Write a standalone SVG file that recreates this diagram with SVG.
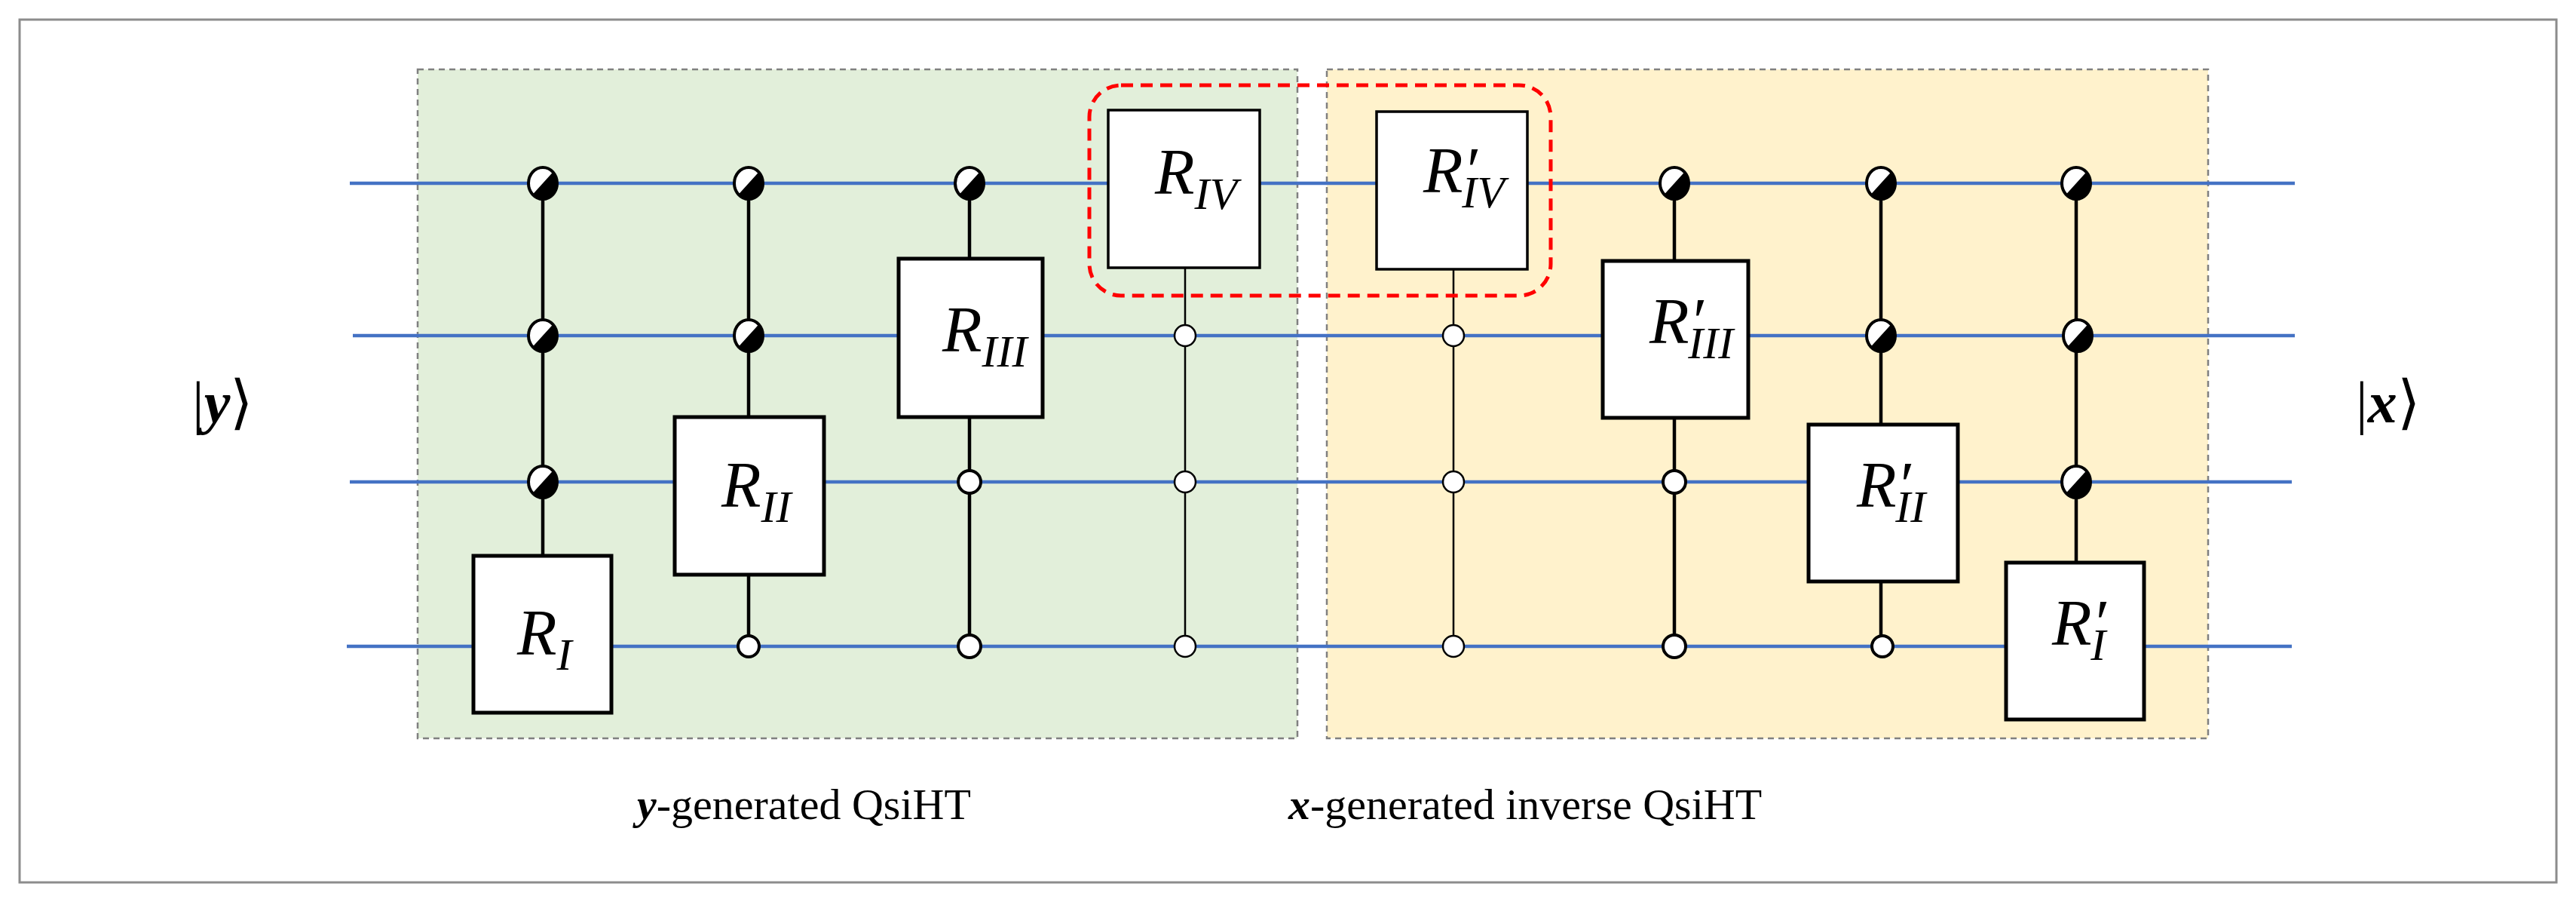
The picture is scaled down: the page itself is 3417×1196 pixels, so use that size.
<svg xmlns="http://www.w3.org/2000/svg" xmlns:xlink="http://www.w3.org/1999/xlink" width="3417" height="1196" viewBox="0 0 3417 1196">
<style>
.wire{stroke:#4472C4;stroke-width:4.5;fill:none}
.ctl{stroke:#000;stroke-width:4.5}
.ctlt{stroke:#000;stroke-width:2.5}
.box{fill:#fff;stroke:#000;stroke-width:5}
.boxt{fill:#fff;stroke:#000;stroke-width:3.5}
.oc{fill:#fff;stroke:#000;stroke-width:4}
.oct{fill:#fff;stroke:#000;stroke-width:2.5}
.R{font-family:"Liberation Serif",serif;font-style:italic;font-size:86px}
.s{font-size:60px}
.lab{font-family:"Liberation Serif",serif;font-size:58px}
.ket{font-family:"Liberation Serif",serif;font-size:78px}
</style>
<defs>
<g id="hf"><ellipse rx="19" ry="21" fill="#000"/><path d="M-13.4,14.8 A19,21 0 0 1 13.4,-14.8 Z" fill="#fff"/><ellipse rx="19" ry="21" fill="none" stroke="#000" stroke-width="4"/></g>
</defs>
<rect width="3417" height="1196" fill="#fff"/>
<rect x="26" y="26" width="3365" height="1144" fill="none" stroke="#8c8c8c" stroke-width="3"/>
<rect x="554" y="92" width="1167" height="887" fill="#E2EFDA" stroke="#808080" stroke-width="2.5" stroke-dasharray="8,6"/>
<rect x="1760" y="92" width="1169" height="887" fill="#FFF2CC" stroke="#808080" stroke-width="2.5" stroke-dasharray="8,6"/>
<g id="wires">
<line class="wire" x1="464" y1="243" x2="3044" y2="243"/>
<line class="wire" x1="468" y1="445" x2="3044" y2="445"/>
<line class="wire" x1="464" y1="639" x2="3040" y2="639"/>
<line class="wire" x1="460" y1="857" x2="3040" y2="857"/>
</g>
<g id="connectors">
<line class="ctl" x1="720" y1="243" x2="720" y2="737"/>
<line class="ctl" x1="993" y1="243" x2="993" y2="857"/>
<line class="ctl" x1="1286" y1="243" x2="1286" y2="857"/>
<line class="ctlt" x1="1572" y1="300" x2="1572" y2="857"/>
<line class="ctlt" x1="1928" y1="300" x2="1928" y2="857"/>
<line class="ctl" x1="2221" y1="243" x2="2221" y2="857"/>
<line class="ctl" x1="2495" y1="243" x2="2495" y2="857"/>
<line class="ctl" x1="2754" y1="243" x2="2754" y2="746"/>
</g>
<g id="controls">
<use href="#hf" x="720" y="243"/><use href="#hf" x="720" y="445"/><use href="#hf" x="720" y="639"/>
<use href="#hf" x="993" y="243"/><use href="#hf" x="993" y="445"/><circle class="oc" cx="993" cy="857" r="14"/>
<use href="#hf" x="1286" y="243"/><circle class="oc" cx="1286" cy="639" r="15"/><circle class="oc" cx="1286" cy="857" r="15"/>
<circle class="oct" cx="1572" cy="445" r="14"/><circle class="oct" cx="1572" cy="639" r="14"/><circle class="oct" cx="1572" cy="857" r="14"/>
<circle class="oct" cx="1928" cy="445" r="14"/><circle class="oct" cx="1928" cy="639" r="14"/><circle class="oct" cx="1928" cy="857" r="14"/>
<use href="#hf" x="2221" y="243"/><circle class="oc" cx="2221" cy="639" r="15"/><circle class="oc" cx="2221" cy="857" r="15"/>
<use href="#hf" x="2495" y="243"/><use href="#hf" x="2495" y="445"/><circle class="oc" cx="2497" cy="857" r="14"/>
<use href="#hf" x="2754" y="243"/><use href="#hf" x="2756" y="445"/><use href="#hf" x="2754" y="639"/>
</g>
<g id="RI"><rect class="box" x="628" y="737" width="183" height="208"/><text class="R" x="686" y="868">R<tspan class="s" dy="20">I</tspan></text></g>
<g id="RII"><rect class="box" x="895" y="553" width="198" height="209"/><text class="R" x="957" y="672">R<tspan class="s" dy="20">II</tspan></text></g>
<g id="RIII"><rect class="box" x="1192" y="343" width="191" height="210"/><text class="R" x="1250" y="466">R<tspan class="s" dy="20">III</tspan></text></g>
<g id="RIV"><rect class="boxt" x="1470" y="146" width="201" height="209"/><text class="R" x="1532" y="257">R<tspan class="s" dy="20">IV</tspan></text></g>
<g id="RIVp"><rect class="boxt" x="1826" y="148" width="200" height="209"/><text class="R" x="1888" y="255">R′<tspan class="s" dx="-20" dy="20">IV</tspan></text></g>
<g id="RIIIp"><rect class="box" x="2126" y="346" width="193" height="208"/><text class="R" x="2188" y="455">R′<tspan class="s" dx="-20" dy="20">III</tspan></text></g>
<g id="RIIp"><rect class="box" x="2399" y="563" width="198" height="208"/><text class="R" x="2463" y="672">R′<tspan class="s" dx="-20" dy="20">II</tspan></text></g>
<g id="RIp"><rect class="box" x="2661" y="746" width="183" height="208"/><text class="R" x="2722" y="855">R′<tspan class="s" dx="-20" dy="20">I</tspan></text></g>
<rect x="1445" y="113" width="612" height="279" rx="42" fill="none" stroke="#FF0000" stroke-width="5" stroke-dasharray="16,10"/>
<text class="ket" x="255" y="560">|<tspan font-weight="bold" font-style="italic">y</tspan>⟩</text>
<text class="ket" x="3125" y="560">|<tspan font-weight="bold" font-style="italic">x</tspan>⟩</text>
<text class="lab" x="845" y="1086"><tspan font-weight="bold" font-style="italic">y</tspan>-generated QsiHT</text>
<text class="lab" x="1709" y="1086"><tspan font-weight="bold" font-style="italic">x</tspan>-generated inverse QsiHT</text>
</svg>
